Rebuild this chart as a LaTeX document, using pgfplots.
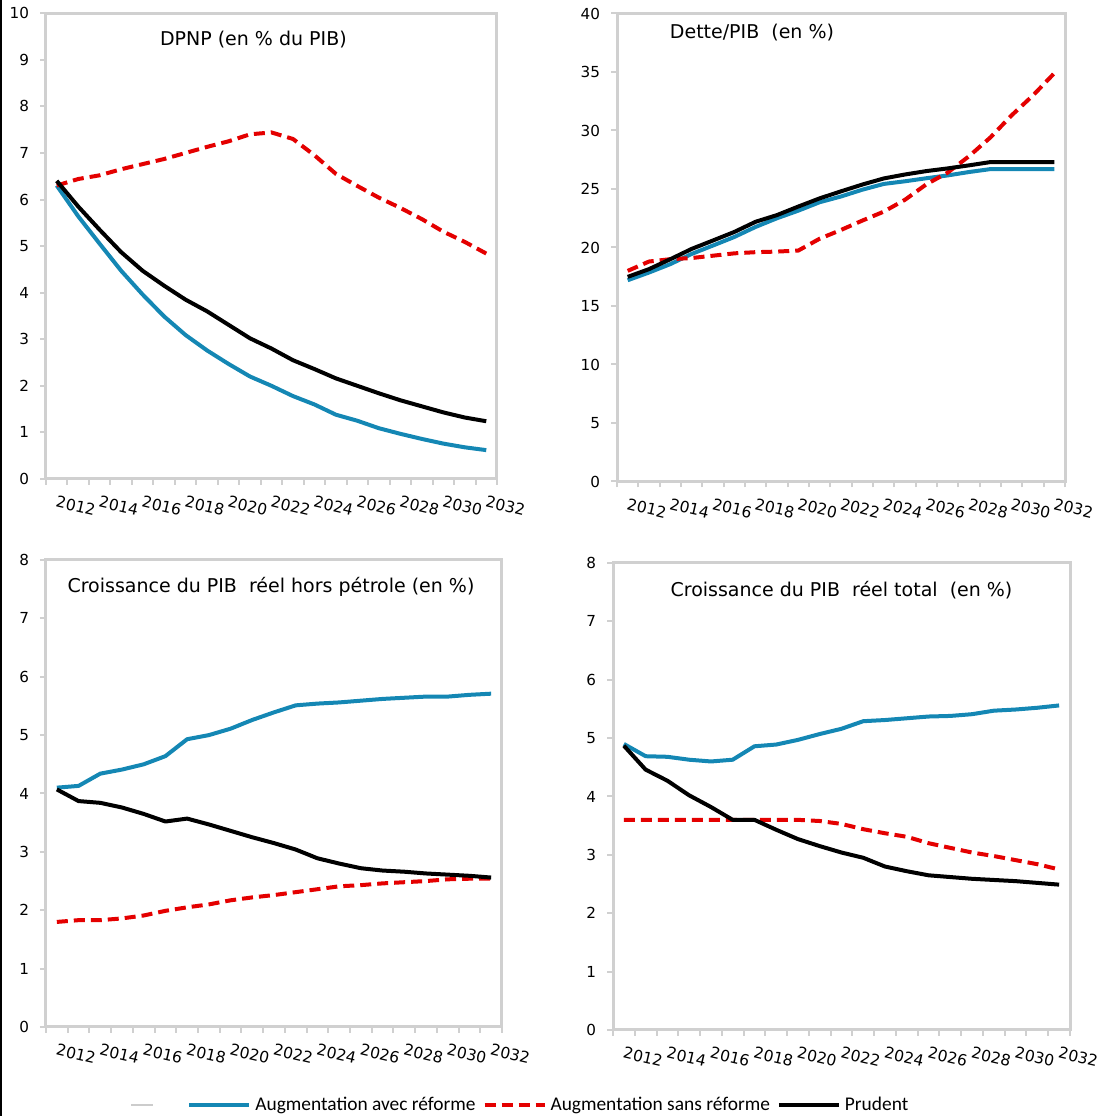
\documentclass[border=0pt]{standalone}
\usepackage{fontspec}
\setmainfont{DejaVu Sans}
\newfontfamily\legfont{Carlito}
\usepackage{pgfplots}
\usepackage{pgfplotstable}
\pgfplotsset{compat=1.18}
\definecolor{cblue}{RGB}{20,135,180}
\definecolor{cred}{RGB}{228,0,0}
\definecolor{cframe}{RGB}{208,208,208}

\pgfplotstableread{
year  b1   r1   k1   b2    r2    k2    b3   r3   k3   b4   r4   k4
2012  6.30 6.30 6.40 17.20 18.00 17.49 4.10 1.80 4.07 4.90 3.60 4.87
2013  5.64 6.44 5.85 17.86 18.80 18.15 4.13 1.83 3.87 4.69 3.60 4.46
2014  5.05 6.52 5.35 18.58 19.00 19.00 4.34 1.83 3.84 4.68 3.60 4.27
2015  4.47 6.65 4.87 19.45 19.10 19.88 4.41 1.86 3.76 4.63 3.60 4.02
2016  3.96 6.76 4.47 20.17 19.30 20.60 4.50 1.91 3.65 4.60 3.60 3.82
2017  3.49 6.87 4.15 20.90 19.50 21.33 4.64 1.99 3.52 4.63 3.60 3.60
2018  3.09 7.00 3.85 21.76 19.60 22.20 4.93 2.05 3.57 4.86 3.60 3.60
2019  2.76 7.13 3.60 22.50 19.65 22.77 5.00 2.10 3.47 4.89 3.60 3.43
2020  2.47 7.25 3.31 23.15 19.74 23.50 5.11 2.17 3.36 4.97 3.60 3.27
2021  2.20 7.40 3.02 23.87 20.75 24.20 5.26 2.22 3.25 5.07 3.58 3.15
2022  2.00 7.44 2.80 24.36 21.50 24.80 5.39 2.26 3.15 5.16 3.53 3.04
2023  1.78 7.30 2.55 24.94 22.30 25.38 5.51 2.31 3.04 5.29 3.44 2.95
2024  1.60 6.95 2.36 25.43 23.06 25.90 5.54 2.36 2.89 5.31 3.37 2.80
2025  1.38 6.55 2.16 25.66 24.08 26.24 5.56 2.41 2.80 5.34 3.31 2.72
2026  1.25 6.29 2.00 25.92 25.40 26.53 5.59 2.43 2.72 5.37 3.20 2.65
2027  1.09 6.04 1.84 26.16 26.40 26.76 5.62 2.46 2.68 5.38 3.12 2.62
2028  0.97 5.82 1.69 26.45 27.80 27.02 5.64 2.48 2.66 5.41 3.04 2.59
2029  0.86 5.58 1.56 26.70 29.40 27.30 5.66 2.50 2.63 5.47 2.98 2.57
2030  0.76 5.31 1.43 26.70 31.30 27.30 5.66 2.53 2.61 5.49 2.91 2.55
2031  0.68 5.09 1.32 26.70 33.00 27.30 5.69 2.54 2.59 5.52 2.84 2.52
2032  0.62 4.84 1.24 26.70 34.90 27.30 5.71 2.54 2.56 5.56 2.75 2.49
}\data

\pgfplotsset{
  panel/.style={
    scale only axis,
    anchor=north west,
    xmin=2011.5, xmax=2032.5,
    ymin=0,
    axis line style={cframe, line width=1.5pt},
    tick align=outside,
    xtick={2012,2014,...,2032},
    minor xtick={2011.5,2012.5,...,2032.5},
    major x tick style={draw=none},
    minor x tick style={cframe, line width=1pt},
    ytick style={cframe, line width=1pt},
    major tick length=3pt,
    minor tick length=3pt,
    xtick pos=bottom,
    ytick pos=left,
    x tick label style={font=\fontsize{7.8}{9}\selectfont, rotate=-13, anchor=north west, xshift=-1.8pt, yshift=-1.5pt},
    y tick label style={font=\fontsize{7.6}{9}\selectfont, xshift=-2pt},
    /pgf/number format/1000 sep={},
    /pgf/number format/assume math mode=true,
    every axis plot/.append style={line width=2pt, mark=none, line join=round},
    legend image code/.code={\draw[##1] (0pt,0pt) -- (30pt,0pt);},
  },
  sblue/.style={cblue, solid},
  sred/.style={cred, dash pattern=on 5.5pt off 3pt},
  sblack/.style={black, solid},
}

\begin{document}
\begin{tikzpicture}
\useasboundingbox (0pt,0pt) rectangle (550pt,558pt);

% Panel 1
\begin{axis}[panel, at={(23pt,551.4pt)}, width=225.5pt, height=232.9pt,
  ymax=10, ytick={0,1,...,10}]
\addplot[sblue] table[x=year, y=b1] {\data};
\addplot[sred] table[x=year, y=r1] {\data};
\addplot[sblack] table[x=year, y=k1] {\data};
\end{axis}

% Panel 2
\begin{axis}[panel, at={(308.5pt,551.25pt)}, width=224pt, height=234pt,
  ymax=40, ytick={0,5,...,40}]
\addplot[sblue] table[x=year, y=b2] {\data};
\addplot[sred] table[x=year, y=r2] {\data};
\addplot[sblack] table[x=year, y=k2] {\data};
\end{axis}

% Panel 3
\begin{axis}[panel, at={(23pt,278pt)}, width=228pt, height=233.5pt,
  ymax=8, ytick={0,1,...,8},
  legend columns=4,
  legend cell align=left,
  legend style={draw=none, fill=none, inner sep=0pt,
    at={(axis description cs:0.1842,-0.167)}, anchor=west,
    font=\legfont\fontsize{9.7}{11}\selectfont,
    nodes={inner sep=0pt, anchor=west},
    column sep=0pt,
    /tikz/every odd column/.append style={column sep=2pt},
    /tikz/every even column/.append style={column sep=3.5pt}}]
\addlegendimage{legend image code/.code={\draw[black!20, line width=1pt] (0pt,0pt) -- (11pt,0pt); \path (20.5pt,0pt);}}
\addlegendentry{}
\addplot[sblue] table[x=year, y=b3] {\data};
\addlegendentry{Augmentation avec réforme}
\addplot[sred] table[x=year, y=r3] {\data};
\addlegendentry{Augmentation sans réforme}
\addplot[sblack] table[x=year, y=k3] {\data};
\addlegendentry{Prudent}
\end{axis}

% Panel 4
\begin{axis}[panel, at={(306.5pt,276.5pt)}, width=228.5pt, height=233.5pt,
  ymax=8, ytick={0,1,...,8}]
\addplot[sblue] table[x=year, y=b4] {\data};
\addplot[sred] table[x=year, y=r4] {\data};
\addplot[sblack] table[x=year, y=k4] {\data};
\end{axis}

\begin{scope}[every node/.style={font=\fontsize{9.5}{11}\selectfont, inner sep=0pt}]
\node at (126.7pt,538pt) {DPNP (en \% du PIB)};
\node at (376pt,541.5pt) {Dette/PIB\ \ (en \%)};
\node at (135.5pt,264.5pt) {Croissance du PIB\ \ réel hors pétrole (en \%)};
\node at (420.75pt,263pt) {Croissance du PIB\ \ réel total\ \ (en \%)};
\end{scope}

\draw[black, line width=1pt] (0.5pt,0pt) -- (0.5pt,558pt);
\end{tikzpicture}
\end{document}
